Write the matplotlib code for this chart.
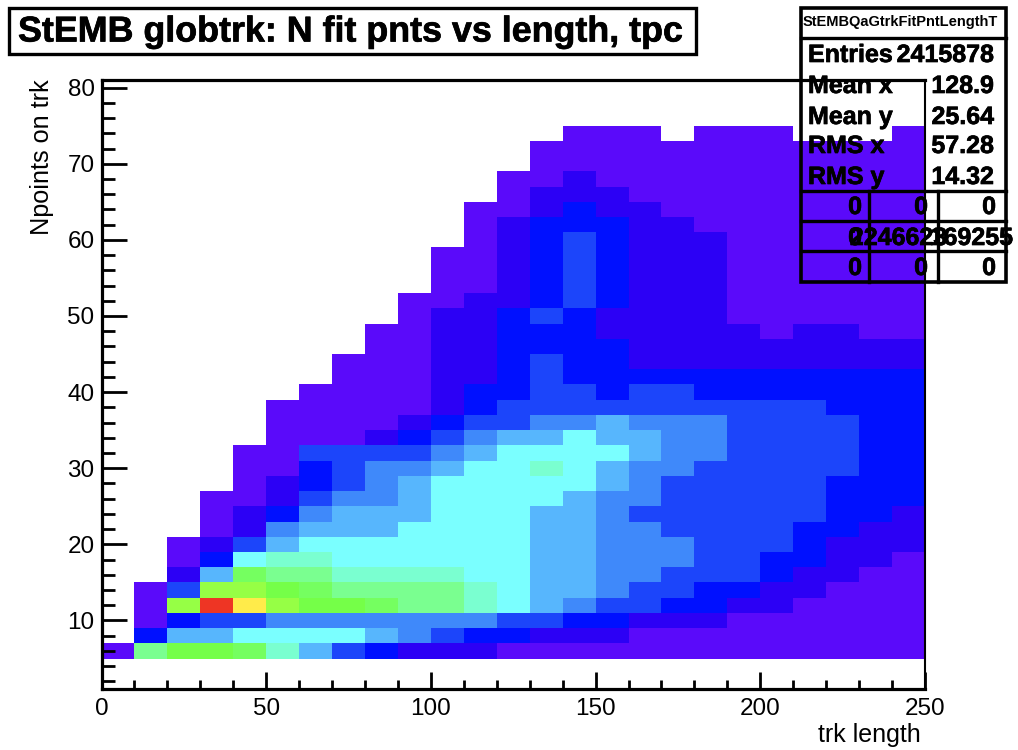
import numpy as np
import matplotlib
matplotlib.use("Agg")
import matplotlib.pyplot as plt
import matplotlib.patheffects as pe
from matplotlib.colors import ListedColormap, BoundaryNorm
from matplotlib.patches import Rectangle
from matplotlib.lines import Line2D
from matplotlib.ticker import MultipleLocator

plt.rcParams["font.family"] = ["Liberation Sans", "DejaVu Sans"]

W, H = 1018, 750
N = -1  # empty bin

# colour level of each 10 x 2 bin, one list per Npoints row
y05 = [0,8,10,10,9,7,5,3,2,1,1,1,0,0,0,0,0,0,0,0,0,0,0,0,0]
y07 = [N,2,5,5,6,6,6,6,5,4,3,2,2,1,1,1,0,0,0,0,0,0,0,0,0]
y09 = [N,0,2,3,3,4,4,4,4,4,4,4,3,3,2,2,1,1,1,0,0,0,0,0,0]
y11 = [N,0,11,13,12,11,10,10,9,8,8,7,6,5,4,3,3,2,2,1,1,0,0,0,0]
y13 = [N,0,3,11,11,10,9,8,8,8,8,7,6,5,5,4,3,3,2,2,1,1,0,0,0]
y15 = [N,N,1,5,9,8,8,7,7,7,7,6,6,5,5,4,4,3,3,3,2,1,1,0,0]
y17 = [N,N,0,2,6,7,7,6,6,6,6,6,6,5,5,4,4,4,3,3,2,2,1,1,0]
y19 = [N,N,0,1,3,5,6,6,6,6,6,6,6,5,5,4,4,4,3,3,3,2,1,1,1]
y21 = [N,N,N,0,1,4,5,5,5,6,6,6,6,5,5,4,4,3,3,3,3,2,2,1,1]
y23 = [N,N,N,0,1,2,4,5,5,5,6,6,6,5,5,4,3,3,3,3,3,3,2,2,1]
y25 = [N,N,N,0,0,1,3,4,4,5,6,6,6,6,5,4,4,3,3,3,3,3,2,2,2]
y27 = [N,N,N,N,0,1,2,3,4,5,6,6,6,6,6,5,4,3,3,3,3,3,2,2,2]
y29 = [N,N,N,N,0,0,2,3,4,4,5,6,6,7,6,5,4,4,3,3,3,3,3,2,2]
y31 = [N,N,N,N,0,0,3,3,3,3,4,5,6,6,6,6,5,4,4,3,3,3,3,2,2]
y33 = [N,N,N,N,N,0,0,0,1,2,3,4,5,5,6,5,5,4,4,3,3,3,3,2,2]
y35 = [N,N,N,N,N,0,0,0,0,1,2,3,3,4,4,5,4,4,4,3,3,3,3,2,2]
y37 = [N,N,N,N,N,0,0,0,0,0,1,2,3,3,3,3,3,3,3,3,3,3,2,2,2]
y39 = [N,N,N,N,N,N,0,0,0,0,1,2,2,3,3,2,3,3,2,2,2,2,2,2,2]
y41 = [N,N,N,N,N,N,N,0,0,0,1,1,2,3,2,2,2,2,2,2,2,2,2,2,2]
y43 = [N,N,N,N,N,N,N,0,0,0,1,1,2,3,2,2,1,1,1,1,1,1,1,1,1]
y45 = [N,N,N,N,N,N,N,N,0,0,1,1,2,2,2,2,1,1,1,1,1,1,1,1,1]
y47 = [N,N,N,N,N,N,N,N,0,0,1,1,2,2,2,1,1,1,1,1,0,1,1,0,0]
y49 = [N,N,N,N,N,N,N,N,N,0,1,1,2,3,2,1,1,1,1,0,0,0,0,0,0]
y51 = [N,N,N,N,N,N,N,N,N,0,0,1,1,2,3,2,1,1,1,0,0,0,0,0,0]
y53 = [N,N,N,N,N,N,N,N,N,N,0,0,1,2,3,2,1,1,1,0,0,0,0,0,0]
y55 = [N,N,N,N,N,N,N,N,N,N,0,0,1,2,3,2,1,1,1,0,0,0,0,0,0]
y57 = [N,N,N,N,N,N,N,N,N,N,0,0,1,2,3,2,1,1,1,0,0,0,0,0,0]
y59 = [N,N,N,N,N,N,N,N,N,N,N,0,1,2,3,2,1,1,1,0,0,0,0,0,0]
y61 = [N,N,N,N,N,N,N,N,N,N,N,0,1,2,2,2,1,1,0,0,0,0,0,0,0]
y63 = [N,N,N,N,N,N,N,N,N,N,N,0,0,1,2,1,1,0,0,0,0,0,0,0,0]
y65 = [N,N,N,N,N,N,N,N,N,N,N,N,0,1,1,1,0,0,0,0,0,0,0,0,0]
y67 = [N,N,N,N,N,N,N,N,N,N,N,N,0,0,1,0,0,0,0,0,0,0,0,0,0]
y69 = [N,N,N,N,N,N,N,N,N,N,N,N,N,0,0,0,0,0,0,0,0,0,0,0,0]
y71 = [N,N,N,N,N,N,N,N,N,N,N,N,N,0,0,0,0,0,0,0,0,0,0,0,0]
y73 = [N,N,N,N,N,N,N,N,N,N,N,N,N,N,0,0,0,N,0,0,0,N,N,N,0]

level_colors = ["#5A0AFA", "#2C00F5", "#0010FF", "#1C45FA", "#3F89FA", "#57B6FD",
                "#7AFFFF", "#7AFFD0", "#7AFF90", "#75FF60", "#75FF48", "#96FF45",
                "#FFEB4A", "#EE3524"]

title = "StEMB globtrk: N fit pnts vs length, tpc"
stats_name = "StEMBQaGtrkFitPntLengthT"
stats_labels = ["Entries", "Mean x", "Mean y", "RMS x", "RMS y"]
stats_values = ["2415878", "128.9", "25.64", "57.28", "14.32"]
overflow = [["0", "0", "0"], ["0", "2246623", "169255"], ["0", "0", "0"]]

rows = [y05,y07,y09,y11,y13,y15,y17,y19,y21,y23,y25,y27,y29,y31,y33,y35,y37,
        y39,y41,y43,y45,y47,y49,y51,y53,y55,y57,y59,y61,y63,y65,y67,y69,y71,y73]
Z = np.ma.masked_less(np.array(rows, dtype=float), 0)
x_edges = np.arange(0, 251, 10)
y_edges = np.arange(5, 76, 2)

fig = plt.figure(figsize=(W / 100, H / 100), dpi=100, facecolor="white")
def fx(p): return p / W
def fy(p): return 1 - p / H

ax = fig.add_axes([fx(101.5), fy(689), fx(925) - fx(101.5), fy(80) - fy(689)])
cmap = ListedColormap(level_colors)
norm = BoundaryNorm(np.arange(-0.5, len(level_colors)), cmap.N)
ax.pcolormesh(x_edges, y_edges, Z, cmap=cmap, norm=norm, antialiased=False, linewidth=0)
ax.set_xlim(0, 250)
ax.set_ylim(1, 81)

ax.xaxis.set_major_locator(MultipleLocator(50))
ax.xaxis.set_minor_locator(MultipleLocator(10))
ax.yaxis.set_major_locator(MultipleLocator(10))
ax.yaxis.set_minor_locator(MultipleLocator(2))
ax.tick_params(axis="x", which="major", direction="in", length=12.5, width=2, pad=6.5, labelsize=17.5)
ax.tick_params(axis="x", which="minor", direction="in", length=6.5, width=2)
ax.tick_params(axis="y", which="major", direction="in", length=18, width=2, pad=5, labelsize=17.5)
ax.tick_params(axis="y", which="minor", direction="in", length=9, width=2)
for name, s in ax.spines.items():
    s.set_linewidth(2.3)
    s.set_zorder(5)
ax.spines["right"].set_linewidth(1.5)

fig.text(fx(921), fy(735), "trk length", ha="right", va="center", fontsize=18)
fig.text(fx(42), fy(79), "Npoints on trk", ha="center", va="top", rotation=90, fontsize=18.2)

heavy = [pe.withStroke(linewidth=0.5, foreground="black")]

def box(x0, y0, x1, y1, lw=2.2):
    fig.add_artist(Rectangle((fx(x0), fy(y1)), fx(x1) - fx(x0), fy(y0) - fy(y1),
                             transform=fig.transFigure, fill=False, ec="black", lw=lw, zorder=10))
def line(x0, y0, x1, y1, lw=2.2):
    fig.add_artist(Line2D([fx(x0), fx(x1)], [fy(y0), fy(y1)], transform=fig.transFigure,
                          color="black", lw=lw, zorder=10))

# title box
box(9, 8, 696, 54, lw=2.4)
fig.text(fx(18), fy(32), title, ha="left", va="center", fontsize=25.8, fontweight="bold",
         zorder=11, path_effects=heavy)

# statistics box
box(801, 8, 1006, 282, lw=2.6)
line(801, 38, 1006, 38, lw=2.4)
fig.text(fx(900), fy(22), stats_name, ha="center", va="center", fontsize=10.5, fontweight="bold", zorder=11)
stat_y = [55, 86, 117, 146, 177]
for lab, val, py in zip(stats_labels, stats_values, stat_y):
    fig.text(fx(808), fy(py), lab, ha="left", va="center", fontsize=18, fontweight="bold",
             zorder=11, path_effects=heavy)
    fig.text(fx(994), fy(py), val, ha="right", va="center", fontsize=18, fontweight="bold",
             zorder=11, path_effects=heavy)
for py in [191, 221, 251]:
    line(801, py, 1006, py, lw=2.4)
line(869, 191, 869, 282, lw=2.4)
line(938, 191, 938, 282, lw=2.4)
cell_right = {(0, 0): 862, (0, 1): 928, (0, 2): 996,
              (1, 0): 862, (1, 1): 947, (1, 2): 1013,
              (2, 0): 862, (2, 1): 928, (2, 2): 996}
row_y = [207, 238, 268]
for i, (r, py) in enumerate(zip(overflow, row_y)):
    for c, txt in enumerate(r):
        fig.text(fx(cell_right[(i, c)]), fy(py), txt, ha="right", va="center", fontsize=18,
                 fontweight="bold", zorder=11, path_effects=heavy)

fig.savefig("out.png", dpi=100)
